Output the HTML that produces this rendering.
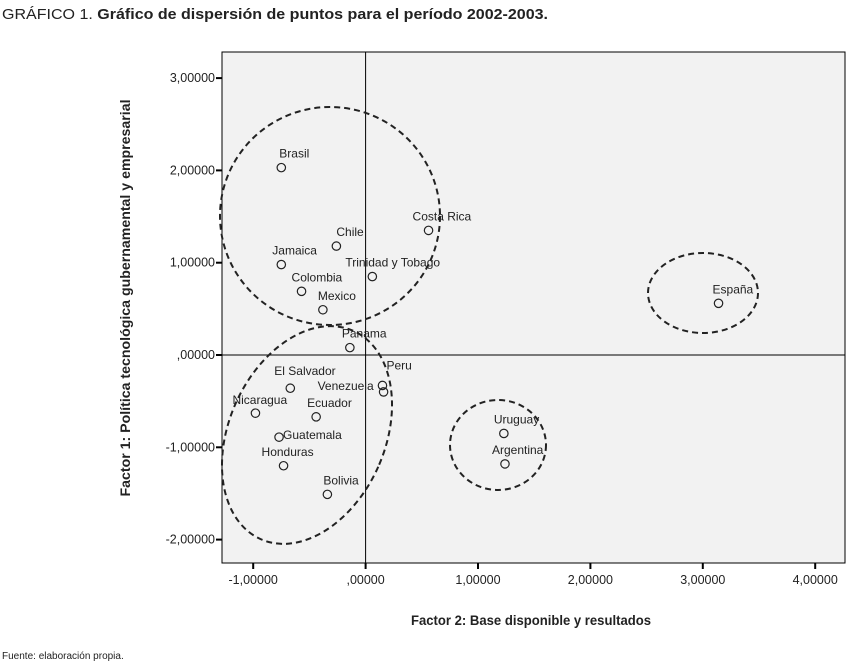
<!DOCTYPE html>
<html><head><meta charset="utf-8"><style>
body{margin:0;background:#fff;width:847px;height:663px;overflow:hidden;font-family:"Liberation Sans",sans-serif}
</style></head><body>
<svg width="847" height="663">
<text x="2" y="19" font-size="15" fill="#222" textLength="546" lengthAdjust="spacingAndGlyphs">GRÁFICO 1. <tspan font-weight="bold">Gráfico de dispersión de puntos para el período 2002-2003.</tspan></text>
<rect x="222" y="52" width="623" height="511" fill="#f2f2f2" stroke="#000"/>
<g id="axes"></g>
<g id="ellipses" fill="none" stroke="#222" stroke-width="2" stroke-dasharray="6,4">
<ellipse cx="330" cy="216" rx="110" ry="109"/>
<ellipse cx="307" cy="435" rx="78" ry="114" transform="rotate(24 307 435)"/>
<ellipse cx="498" cy="445" rx="48" ry="45"/>
<ellipse cx="703" cy="293" rx="55" ry="40"/>
</g>
<g id="points"></g>
<text x="125" y="303" font-size="14" font-weight="bold" fill="#222" transform="rotate(-90 125 298)" text-anchor="middle" textLength="397" lengthAdjust="spacingAndGlyphs">Factor 1: Política tecnológica gubernamental y empresarial</text>
<text x="531" y="625" font-size="14" font-weight="bold" fill="#222" text-anchor="middle" textLength="240" lengthAdjust="spacingAndGlyphs">Factor 2: Base disponible y resultados</text>
<text x="2" y="659" font-size="10" fill="#222">Fuente: elaboración propia.</text>
</svg>
<script>
const countries=["Brasil","Costa Rica","Chile","Jamaica","Trinidad y Tobago","Colombia","Mexico","España","Panama","Peru","Venezuela","El Salvador","Nicaragua","Ecuador","Guatemala","Honduras","Bolivia","Uruguay","Argentina"];
const factor2=[-0.75,0.56,-0.26,-0.75,0.06,-0.57,-0.38,3.14,-0.14,0.15,0.16,-0.67,-0.98,-0.44,-0.77,-0.73,-0.34,1.23,1.24];
const factor1=[2.03,1.35,1.18,0.98,0.85,0.69,0.49,0.56,0.08,-0.33,-0.40,-0.36,-0.63,-0.67,-0.89,-1.20,-1.51,-0.85,-1.18];
const xTicks=[-1,0,1,2,3,4];
const yTicks=[3,2,1,0,-1,-2];
const xTickLabels=["-1,00000",",00000","1,00000","2,00000","3,00000","4,00000"];
const yTickLabels=["3,00000","2,00000","1,00000",",00000","-1,00000","-2,00000"];
const labelDx=[-2,-16,0,-9,-27,-10,-5,-6,-8,4,-66,-16,-23,-9,4,-22,-4,-10,-13];
const labelDy=[-10,-10,-10,-10,-10,-10,-10,-10,-10,-16,-2,-13,-9,-10,2,-10,-10,-10,-10];
const X=v=>365.6+v*112.4, Y=v=>355-v*92.3;
const NS="http://www.w3.org/2000/svg";
function mk(t,a,p){const e=document.createElementNS(NS,t);for(const k in a)e.setAttribute(k,a[k]);p.appendChild(e);return e;}
const ax=document.getElementById('axes');
let l=mk('line',{x1:X(0),x2:X(0),y1:52,y2:563,stroke:'#000'},ax);


l=mk('line',{x1:222,x2:845,y1:Y(0),y2:Y(0),stroke:'#000'},ax);


xTicks.forEach((v,i)=>{
 let t=mk('line',{x1:X(v),x2:X(v),y1:563,y2:569,stroke:'#000','stroke-width':2},ax);
 
 
 let s=mk('text',{x:X(v),y:584,'font-size':12.5,'text-anchor':'middle',fill:'#222'},ax);s.textContent=xTickLabels[i];
 
 
});
yTicks.forEach((v,i)=>{
 let t=mk('line',{x1:216,x2:222,y1:Y(v),y2:Y(v),stroke:'#000','stroke-width':2},ax);
 
 
 let s=mk('text',{x:215,y:Y(v)+4,'font-size':12.5,'text-anchor':'end',fill:'#222'},ax);s.textContent=yTickLabels[i];
 
 
});
const pg=document.getElementById('points');
countries.forEach((c,i)=>{
 const cx=X(factor2[i]),cy=Y(factor1[i]);
 let p=mk('circle',{cx:cx,cy:cy,r:4.2,fill:'none',stroke:'#222','stroke-width':1.2},pg);
 
 
 let s=mk('text',{x:cx+labelDx[i],y:cy+labelDy[i],'font-size':12,fill:'#222'},pg);s.textContent=c;
 
 
});
</script>
</body></html>
